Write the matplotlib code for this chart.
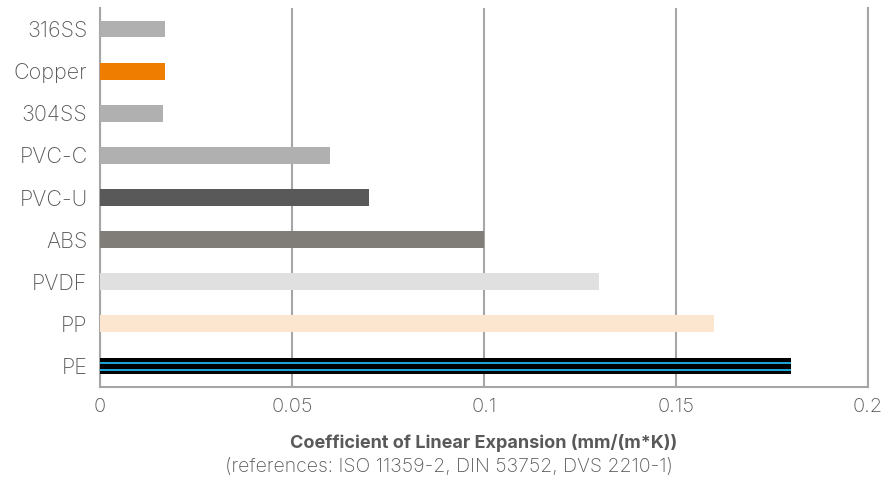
import matplotlib
matplotlib.use("Agg")
import matplotlib.pyplot as plt

categories = ["316SS", "Copper", "304SS", "PVC-C", "PVC-U", "ABS", "PVDF", "PP", "PE"]
values = [0.017, 0.017, 0.0165, 0.060, 0.070, 0.100, 0.130, 0.160, 0.180]
colors = ["#b0b0b0", "#ef7d00", "#b0b0b0", "#b0b0b0", "#595959", "#807c78", "#e0e0e0", "#fde6d0", "#000000"]
stripe_color = "#1ba3d6"
xticks = [0, 0.05, 0.1, 0.15, 0.2]
xticklabels = ["0", "0.05", "0.1", "0.15", "0.2"]
xlabel = "Coefficient of Linear Expansion (mm/(m*K))"
subtitle = "(references: ISO 11359-2, DIN 53752, DVS 2210-1)"

plt.rcParams['font.family'] = ['Inter', 'DejaVu Sans']
text_color = "#595959"
grid_color = "#a6a6a6"

fig = plt.figure(figsize=(8.83, 4.88), dpi=100)
ax = fig.add_axes([100/883, 1-387/488, 768/883, 379/488])

ypos = list(range(len(categories)))
ax.barh(ypos, values, height=0.40, color=colors, zorder=3)
# PE striped bar: two blue stripes over the black bar
pe = len(categories) - 1
for off in (-0.075, 0.09):
    ax.barh(pe + off, values[pe], height=0.05, color=stripe_color, zorder=4)

ax.set_ylim(len(categories) - 0.5, -0.5)
ax.set_xlim(0, 0.2)
ax.set_yticks(ypos)
ax.set_yticklabels(categories)
ax.set_xticks(xticks)
ax.set_xticklabels(xticklabels)
ax.tick_params(axis='y', length=0, labelsize=15.5, colors=text_color, pad=9)
ax.tick_params(axis='x', length=0, labelsize=14.5, colors=text_color, pad=8)
for lbl in ax.get_yticklabels() + ax.get_xticklabels():
    lbl.set_fontweight('light')
ax.xaxis.grid(True, color=grid_color, linewidth=1.5, zorder=0)
ax.spines["top"].set_visible(False)
for s in ["left", "bottom", "right"]:
    ax.spines[s].set_color(grid_color)
    ax.spines[s].set_linewidth(1.5)

fig.text(484/883, 1-443/488, xlabel, ha='center', va='center', fontsize=13,
         fontweight='bold', color=text_color)
fig.text(449/883, 1-467/488, subtitle, ha='center', va='center', fontsize=14,
         fontweight='light', color=text_color)

fig.savefig("out.png", dpi=100)
